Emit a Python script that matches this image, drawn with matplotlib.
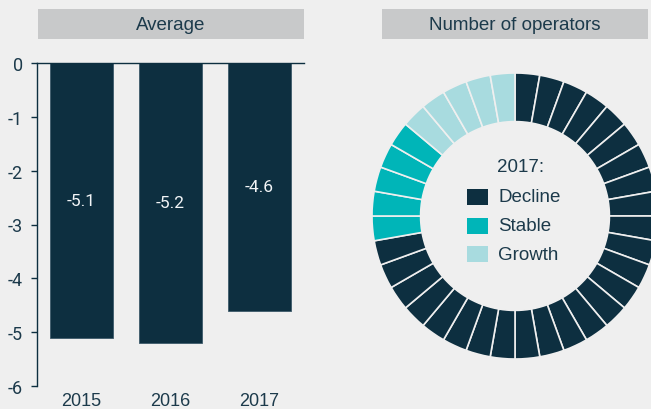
import matplotlib
matplotlib.use("Agg")
import matplotlib.pyplot as plt
from matplotlib.patches import Rectangle

# ---- data ----
years = ["2015", "2016", "2017"]
average_change = [-5.1, -5.2, -4.6]
yticks = [0, -1, -2, -3, -4, -5, -6]
segment_labels = ["Decline", "Stable", "Growth"]
segment_counts = [26, 5, 5]
legend_title = "2017:"
panel_titles = ["Average", "Number of operators"]

# ---- style ----
BG = "#efefef"
DARK = "#0d2f40"
TEAL = "#00b5b8"
LIGHT = "#a8dbdf"
TXT = "#1c3a4b"
BOX = "#c8c9ca"
seg_colors = [DARK, TEAL, LIGHT]

W, H = 651, 410
fig = plt.figure(figsize=(W / 100, H / 100), dpi=100, facecolor=BG)
plt.rcParams["font.family"] = ["Liberation Sans", "DejaVu Sans"]
NUMFONT = ["Roboto", "DejaVu Sans"]


def px(x0, y0, x1, y1):
    """pixel box (top-left origin) -> figure fraction rect"""
    return [x0 / W, 1 - y1 / H, (x1 - x0) / W, (y1 - y0) / H]


# title boxes
for (x0, x1), t in zip([(38, 304), (382, 648)], panel_titles):
    r = px(x0, 10, x1, 40)
    fig.patches.append(Rectangle((r[0], r[1]), r[2], r[3], transform=fig.transFigure,
                                 facecolor=BOX, edgecolor="none"))
    fig.text(r[0] + r[2] / 2, r[1] + r[3] / 2, t, ha="center", va="center",
             fontsize=13.5, color=TXT)

# ---- bar chart ----
ax = fig.add_axes(px(37, 64, 304, 387))
ax.set_facecolor(BG)
xpos = list(range(len(years)))
bars = ax.bar(xpos, average_change, width=0.71, color=DARK, edgecolor="#3d5a6a", linewidth=0.6)
for x, v in zip(xpos, average_change):
    ax.text(x, v / 2, f"{v:.1f}", ha="center", va="center", color="#f2f5f7",
            fontsize=12.5, family=NUMFONT)
ax.set_xlim(-0.5, 2.5)
ax.set_ylim(-6, 0)
ax.set_yticks(yticks)
ax.set_yticklabels([str(t) if t == 0 else f"-{abs(t)}" for t in yticks], family=NUMFONT)
ax.set_xticks(xpos)
ax.set_xticklabels(years)
ax.tick_params(axis="y", length=4, width=1, color=DARK, labelcolor=TXT, labelsize=13, pad=6)
ax.tick_params(axis="x", length=0, labelcolor=TXT, labelsize=13, pad=4)
for s in ["bottom", "right"]:
    ax.spines[s].set_visible(False)
for s in ["left", "top"]:
    ax.spines[s].set_color(DARK)
    ax.spines[s].set_linewidth(1)

# ---- donut ----
cx, cy, R = 515, 217, 143
ax2 = fig.add_axes(px(cx - R, cy - R, cx + R, cy + R))
ax2.set_facecolor("none")
vals, cols = [], []
for n, c in zip(segment_counts, seg_colors):
    vals += [1] * n
    cols += [c] * n
ax2.pie(vals, colors=cols, startangle=90, counterclock=False, radius=1,
        wedgeprops=dict(width=0.34, edgecolor=BG, linewidth=1.2))
ax2.set_xlim(-1, 1)
ax2.set_ylim(-1, 1)
ax2.set_aspect("equal")
ax2.axis("off")

# central legend (pixel positions converted to data units)
def d(xp, yp):
    return ((xp - cx) / R, (cy - yp) / R)

tx, ty = d(521, 168)
ax2.text(tx, ty, legend_title, ha="center", va="center", fontsize=13.5, color=TXT)
for i, (lab, c) in enumerate(zip(segment_labels, seg_colors)):
    yc = 198 + i * 28.5
    x0, y0 = d(467, yc + 8)
    ax2.add_patch(Rectangle((x0, y0), 21 / R, 16 / R, facecolor=c, edgecolor="none"))
    lx, ly = d(498, yc)
    ax2.text(lx, ly, lab, ha="left", va="center", fontsize=13.5, color=TXT)

fig.savefig("out.png", dpi=100, facecolor=BG)
